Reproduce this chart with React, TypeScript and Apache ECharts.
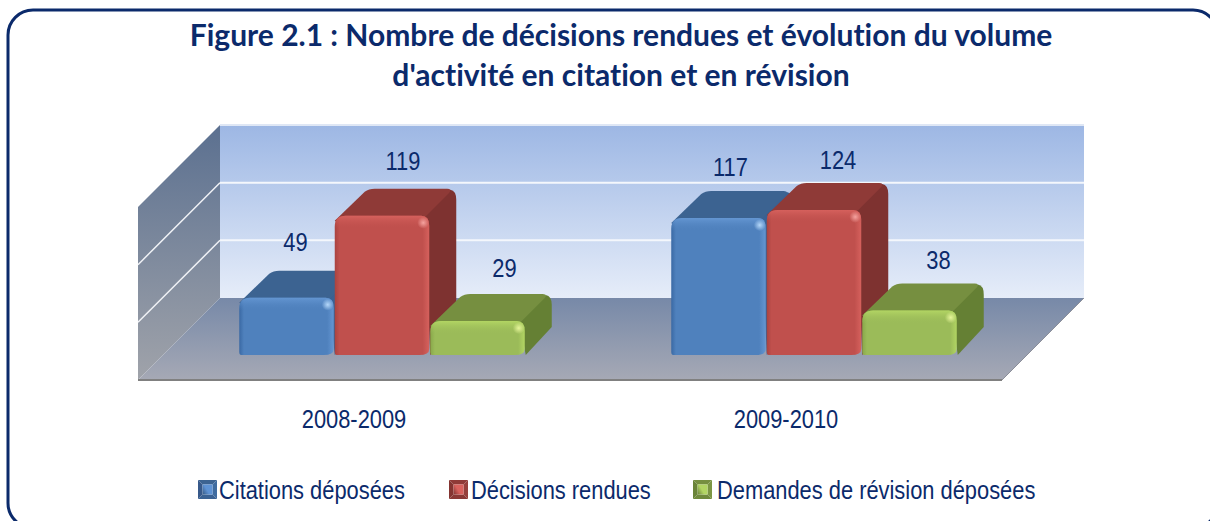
import React, { useEffect, useRef } from "react";
import * as echarts from "echarts";

const categories = ["2008-2009", "2009-2010"];
const seriesNames = ["Citations déposées", "Décisions rendues", "Demandes de révision déposées"];
const citations = [49, 117];
const decisions = [119, 124];
const revisions = [29, 38];
const axisTicks = [0, 50, 100, 150];
const titleText = "Figure 2.1 : Nombre de décisions rendues et évolution du volume\nd'activité en citation et en révision";

const NAVY = "#0b2a6b";
const SANS = '"Liberation Sans", Arial, sans-serif';
const TEXT_SQUEEZE = 0.875;

const palettes = [
  { front: "#4f81bd", dark: "#3a69a4", rim: "#6496d2", top: "#3c6391", side: "#3a6193", hi: "#b5d8fa", ic: ["#3c6391", "#3f6ca0", "#3a6293", "#37598a", "#5f93d4", "#3f6fa9"] },
  { front: "#c0504d", dark: "#a94340", rim: "#d6615d", top: "#8f3a37", side: "#7e3230", hi: "#f5a39f", ic: ["#8f3a37", "#96403c", "#8a3835", "#843431", "#d9625e", "#a94340"] },
  { front: "#9bbb59", dark: "#88a84a", rim: "#b2d563", top: "#768f40", side: "#658034", hi: "#e6f59a", ic: ["#768f40", "#7c9644", "#708a3c", "#6a8438", "#b2d563", "#88a84a"] },
];
const labelNudges = [
  [[9, -55], [12, -51]],
  [[21, -54], [24, -49]],
  [[27, -53], [29, -50]],
];
const legendSlots = [
  { icon: 198, text: 219 },
  { icon: 449, text: 471 },
  { icon: 693, text: 717 },
];

const DEPTH = 27;
const WALL_DEPTH = 82;
const FLOOR_TO_BARS = 25;
const X_SHIFT = 28;
const BAR_W = 95.5;

const barRender = (si: number) => (params: any, api: any) => {
  const cat = api.value(0);
  const val = api.value(1);
  const p = palettes[si];
  const center = api.coord([cat, 0]);
  const topPt = api.coord([cat, val]);
  const x = center[0] + X_SHIFT + (si - 1.5) * BAR_W + 0.5;
  const w = BAR_W - 1;
  const bottom = center[1] - FLOOR_TO_BARS;
  const top = topPt[1] - FLOOR_TO_BARS;
  const d = DEPTH;
  const sidePath = `M${x + w - 5},${top + 1} L${x + w + d - 6},${top - d + 1} Q${x + w + d},${top - d + 2} ${x + w + d},${top - d + 11} L${x + w + d},${bottom - d - 1} L${x + w + 1},${bottom} Z`;
  const topPath = `M${x},${top + 5} L${x + d + 3},${top - d + 3} Q${x + d + 7},${top - d} ${x + d + 13},${top - d} L${x + w + d - 9},${top - d} Q${x + w + d - 4},${top - d} ${x + w + d - 7},${top - d + 4} L${x + w - 5},${top + 2} L${x + 4},${top + 8} Z`;
  const frontPath = `M${x},${top + 11} Q${x},${top} ${x + 11},${top} L${x + w - 8},${top} Q${x + w},${top} ${x + w},${top + 10} L${x + w},${bottom - 6} Q${x + w},${bottom} ${x + w - 10},${bottom} L${x + 2},${bottom} Q${x},${bottom} ${x},${bottom - 3} Z`;
  const rimPath = `M${x},${top + 11} Q${x},${top} ${x + 11},${top} L${x + w - 8},${top} Q${x + w},${top} ${x + w},${top + 10} L${x + w},${top + 13} L${x},${top + 13} Z`;
  const labelX = x + w / 2 + labelNudges[si][cat][0];
  const labelY = top + labelNudges[si][cat][1];
  return {
    type: "group",
    children: [
      { type: "path", shape: { pathData: sidePath }, style: { fill: p.side } },
      { type: "path", shape: { pathData: topPath }, style: { fill: p.top } },
      {
        type: "path",
        shape: { pathData: frontPath },
        style: {
          fill: {
            type: "linear", x: 0, y: 0, x2: 1, y2: 0,
            colorStops: [
              { offset: 0, color: p.dark },
              { offset: 0.05, color: p.front },
              { offset: 0.93, color: p.front },
              { offset: 1, color: p.rim },
            ],
          },
        },
      },
      {
        type: "path",
        shape: { pathData: rimPath },
        style: {
          fill: {
            type: "linear", x: 0, y: 0, x2: 0, y2: 1,
            colorStops: [
              { offset: 0, color: p.rim },
              { offset: 1, color: p.front + "00" },
            ],
          },
        },
      },
      {
        type: "circle",
        shape: { cx: x + w - 6, cy: top + 7, r: 6 },
        style: {
          fill: {
            type: "radial", x: 0.5, y: 0.5, r: 0.5,
            colorStops: [
              { offset: 0, color: p.hi },
              { offset: 1, color: p.hi + "00" },
            ],
          },
        },
      },
      {
        type: "text",
        x: labelX,
        y: labelY,
        scaleX: TEXT_SQUEEZE,
        style: {
          text: String(val),
          fill: NAVY,
          font: `25px ${SANS}`,
          align: "center",
          verticalAlign: "middle",
        },
      },
    ],
  };
};

const categoryLabelRender = (params: any, api: any) => {
  const cat = api.value(0);
  const pt = api.coord([cat, 0]);
  return {
    type: "text",
    x: pt[0],
    y: pt[1] + 39,
    scaleX: TEXT_SQUEEZE,
    style: { text: categories[cat], fill: NAVY, font: `25px ${SANS}`, align: "center", verticalAlign: "middle" },
  };
};

const wallRender = (params: any, api: any) => {
  const v = api.value(0);
  const left = api.coord([0, v]);
  const right = api.coord([1, v]);
  const D = WALL_DEPTH;
  const gridLines = {
    type: "group",
    children: [
      { type: "line", shape: { x1: left[0], y1: left[1], x2: right[0], y2: right[1] }, style: { stroke: v === 150 ? "#dfe7f5" : "#f4f7fc", lineWidth: 2 } },
      { type: "line", shape: { x1: left[0], y1: left[1], x2: left[0] - D, y2: left[1] + D }, style: { stroke: v === 150 ? "#ffffff00" : "#f0f2f6", lineWidth: 1.5 } },
    ],
  };
  if (v !== 0) return gridLines;
  const topL = api.coord([0, 150]);
  const topR = api.coord([1, 150]);
  return {
    type: "group",
    children: [
      {
        type: "polygon",
        shape: { points: [topL, topR, right, left] },
        style: {
          fill: {
            type: "linear", x: 0, y: 0, x2: 0, y2: 1,
            colorStops: [
              { offset: 0, color: "#9db7e4" },
              { offset: 1, color: "#e6edf9" },
            ],
          },
        },
      },
      {
        type: "polygon",
        shape: { points: [topL, left, [left[0] - D, left[1] + D], [topL[0] - D, topL[1] + D]] },
        style: {
          fill: {
            type: "linear", x: 0, y: 0, x2: 0, y2: 1,
            colorStops: [
              { offset: 0, color: "#5b7090" },
              { offset: 1, color: "#a0a3aa" },
            ],
          },
        },
      },
      {
        type: "polygon",
        shape: { points: [left, right, [right[0] - D, right[1] + D], [left[0] - D, left[1] + D]] },
        style: {
          fill: {
            type: "linear", x: 0, y: 0, x2: 0, y2: 1,
            colorStops: [
              { offset: 0, color: "#7789a8" },
              { offset: 1, color: "#a6a9b5" },
            ],
          },
        },
      },
      { type: "line", shape: { x1: left[0] - D, y1: left[1] + D, x2: right[0] - D, y2: right[1] + D }, style: { stroke: "#808080", lineWidth: 2 } },
      { type: "line", shape: { x1: right[0] - D, y1: right[1] + D, x2: right[0], y2: right[1] }, style: { stroke: "#8c8f99", lineWidth: 1 } },
    ],
  };
};

const legendIcon = (x: number, y: number, s: number, c: string[]) => {
  const xm = x + s * 0.5;
  const ym = y + s * 0.5;
  const ins = 5;
  const tri = (pts: number[][], fill: any) => ({ type: "polygon", shape: { points: pts }, style: { fill } });
  return [
    tri([[x, y], [x + s, y], [xm + ins, ym - ins], [xm - ins, ym - ins]], c[0]),
    tri([[x + s, y], [x + s, y + s], [xm + ins, ym + ins], [xm + ins, ym - ins]], c[1]),
    tri([[x + s, y + s], [x, y + s], [xm - ins, ym + ins], [xm + ins, ym + ins]], c[2]),
    tri([[x, y + s], [x, y], [xm - ins, ym - ins], [xm - ins, ym + ins]], c[3]),
    tri([[xm - ins, ym - ins], [xm + ins, ym - ins], [xm + ins, ym + ins], [xm - ins, ym + ins]], {
      type: "linear", x: 1, y: 0.2, x2: 0, y2: 0.8,
      colorStops: [
        { offset: 0, color: c[4] },
        { offset: 0.55, color: c[4] },
        { offset: 1, color: c[0] },
      ],
    }),
  ];
};

export default function App() {
  const ref = useRef<HTMLDivElement>(null);
  useEffect(() => {
    const chart = echarts.init(ref.current!, undefined, { renderer: "svg" });
    const sources = [citations, decisions, revisions];
    chart.setOption({
      animation: false,
      backgroundColor: "#ffffff",
      title: {
        text: titleText,
        left: 616,
        top: 9,
        textAlign: "center",
        textStyle: { fontFamily: "Lato", fontWeight: "bold", fontSize: 30, lineHeight: 40, color: NAVY },
      },
      grid: [
        { left: 220, width: 864, top: 125, height: 173 },
        { left: 138, width: 864, top: 204.5, height: 175.5 },
      ],
      xAxis: [
        { type: "value", gridIndex: 0, min: 0, max: 1, show: false },
        {
          type: "category",
          gridIndex: 1,
          data: categories,
          axisLine: { show: false },
          axisTick: { show: false },
          axisLabel: { show: false },
        },
      ],
      yAxis: [
        { type: "value", gridIndex: 0, min: 0, max: 150, interval: 50, show: false },
        { type: "value", gridIndex: 1, min: 0, max: 150, interval: 50, show: false },
      ],
      series: [
        {
          type: "custom",
          name: "walls",
          xAxisIndex: 0,
          yAxisIndex: 0,
          coordinateSystem: "cartesian2d",
          data: axisTicks.map((t) => [t]),
          encode: { y: 0 },
          clip: false,
          silent: true,
          renderItem: wallRender,
          z: 1,
        },
        {
          type: "custom",
          name: "categories",
          xAxisIndex: 1,
          yAxisIndex: 1,
          coordinateSystem: "cartesian2d",
          data: categories.map((_, i) => [i, 0]),
          encode: { x: 0, y: 1 },
          clip: false,
          silent: true,
          renderItem: categoryLabelRender,
          z: 2,
        },
        ...seriesNames.map((name, si) => ({
          type: "custom",
          name,
          xAxisIndex: 1,
          yAxisIndex: 1,
          coordinateSystem: "cartesian2d",
          data: sources[si].map((v, i) => [i, v]),
          encode: { x: 0, y: 1 },
          clip: false,
          itemStyle: { color: palettes[si].front },
          renderItem: barRender(si),
          z: 3 + si,
        })),
      ],
      graphic: [
        { type: "rect", shape: { x: 8, y: 10, width: 1210, height: 518, r: 25 }, style: { fill: "transparent", stroke: NAVY, lineWidth: 3 }, z: 30 },
        ...seriesNames.map((name, si) => ({
          type: "group",
          z: 20,
          children: [
            ...legendIcon(legendSlots[si].icon, 480, 19, palettes[si].ic),
            {
              type: "text",
              x: legendSlots[si].text,
              y: 490,
              scaleX: TEXT_SQUEEZE,
              style: { text: name, fill: NAVY, font: `25px ${SANS}`, align: "left", verticalAlign: "middle" },
            },
          ],
        })),
      ],
    });
    return () => chart.dispose();
  }, []);
  return <div ref={ref} style={{ position: "absolute", left: 0, top: 0, width: 1210, height: 521, fontVariantLigatures: "none" }} />;
}
